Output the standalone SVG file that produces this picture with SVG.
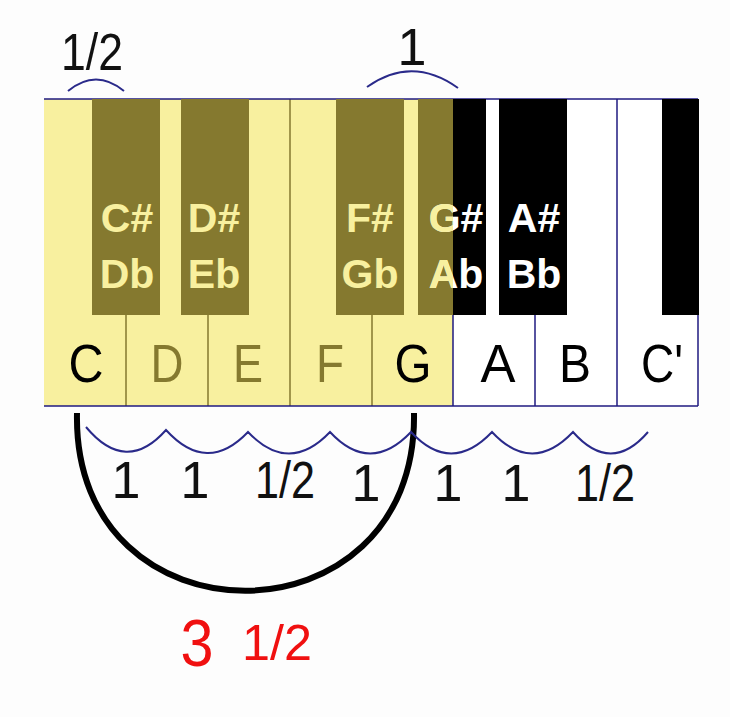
<svg xmlns="http://www.w3.org/2000/svg" width="730" height="717" viewBox="0 0 730 717">
<style>
text{font-family:"Liberation Sans",Arial,sans-serif}
.y{fill:#f8f09f}.o{fill:#85792f}.k{fill:#000}
.ln{stroke:#1f1a80;stroke-width:1.5;fill:none}
.ol{stroke:#85792f;stroke-width:1.5}
.wl{font-size:54px;text-anchor:middle}
.bl{font-size:41px;font-weight:bold;text-anchor:middle}
.st{font-size:52px;text-anchor:middle;fill:#111}
.arc{stroke:#2a2a8a;stroke-width:2;fill:none}
</style>
<defs><clipPath id="cy"><rect x="0" y="0" width="453" height="717"/></clipPath></defs>
<rect width="730" height="717" fill="#fdfdfd"/>
<g id="keyboard">
<rect x="44" y="99" width="654" height="307" fill="#fff"/>
<rect x="44" y="99" width="409" height="307" class="y"/>
<line x1="453" y1="99" x2="453" y2="406" class="ln"/>
<line x1="535" y1="315" x2="535" y2="406" class="ln"/>
<line x1="617" y1="99" x2="617" y2="406" class="ln"/>
<line x1="126" y1="315" x2="126" y2="406" class="ol"/>
<line x1="208" y1="315" x2="208" y2="406" class="ol"/>
<line x1="290" y1="99" x2="290" y2="406" class="ol"/>
<line x1="372" y1="315" x2="372" y2="406" class="ol"/>
<line x1="44" y1="99" x2="698" y2="99" class="ln"/>
<line x1="44" y1="406" x2="698" y2="406" class="ln"/>
<line x1="698" y1="99" x2="698" y2="406" class="ln"/>
<rect x="92" y="99" width="68" height="216" class="o"/>
<rect x="181" y="99" width="68" height="216" class="o"/>
<rect x="336" y="99" width="68" height="216" class="o"/>
<rect x="418" y="99" width="35" height="216" class="o"/>
<rect x="453" y="99" width="33" height="216" class="k"/>
<rect x="499" y="99" width="68" height="216" class="k"/>
<rect x="662" y="99" width="37" height="216" class="k"/>
</g>
<g id="white-labels">
<text x="86" y="382" class="wl" fill="#000" textLength="35" lengthAdjust="spacingAndGlyphs">C</text>
<text x="167" y="382" class="wl" fill="#85792f" textLength="33" lengthAdjust="spacingAndGlyphs">D</text>
<text x="248" y="382" class="wl" fill="#85792f" textLength="30" lengthAdjust="spacingAndGlyphs">E</text>
<text x="330" y="382" class="wl" fill="#85792f" textLength="28" lengthAdjust="spacingAndGlyphs">F</text>
<text x="413" y="382" class="wl" fill="#000" textLength="37" lengthAdjust="spacingAndGlyphs">G</text>
<text x="498" y="382" class="wl" fill="#000" textLength="35" lengthAdjust="spacingAndGlyphs">A</text>
<text x="575" y="382" class="wl" fill="#000" textLength="32" lengthAdjust="spacingAndGlyphs">B</text>
<text x="662" y="382" class="wl" fill="#000" textLength="42" lengthAdjust="spacingAndGlyphs">C'</text>
</g>
<g id="black-labels">
<text x="127" y="232" class="bl" fill="#f8f09f">C#</text>
<text x="127" y="288" class="bl" fill="#f8f09f">Db</text>
<text x="214" y="232" class="bl" fill="#f8f09f">D#</text>
<text x="214" y="288" class="bl" fill="#f8f09f">Eb</text>
<text x="370" y="232" class="bl" fill="#f8f09f">F#</text>
<text x="370" y="288" class="bl" fill="#f8f09f">Gb</text>
<text x="456" y="232" class="bl" fill="#fff">G#</text>
<text x="456" y="288" class="bl" fill="#fff">Ab</text>
<g clip-path="url(#cy)">
<text x="456" y="232" class="bl" fill="#f8f09f">G#</text>
<text x="456" y="288" class="bl" fill="#f8f09f">Ab</text>
</g>
<text x="534" y="232" class="bl" fill="#fff">A#</text>
<text x="534" y="288" class="bl" fill="#fff">Bb</text>
</g>
<g id="connectors">
<path d="M68,91 Q96,68 124,91" class="arc"/>
<path d="M367,87 Q412,55 458,88" class="arc"/>
<path d="M77,413 C72,650 418,650 414,413" stroke="#000" stroke-width="6" fill="none"/>
<path d="M86,427 Q126,475 166,430 Q207,475 248,432 Q289,475 330,432 Q370,475 411,432 Q451,475 492,432 Q532,475 573,432 Q611,475 648,432" class="arc"/>
</g>
<g id="step-labels">
<text x="92" y="70" class="st" font-size="48" textLength="62" lengthAdjust="spacingAndGlyphs">1/2</text>
<text x="412" y="65" class="st" font-size="42">1</text>
<text x="126" y="498" class="st">1</text>
<text x="195" y="498" class="st">1</text>
<text x="285" y="498" class="st" textLength="60" lengthAdjust="spacingAndGlyphs">1/2</text>
<text x="366" y="501" class="st">1</text>
<text x="448" y="501" class="st">1</text>
<text x="516" y="501" class="st">1</text>
<text x="605" y="501" class="st" textLength="60" lengthAdjust="spacingAndGlyphs">1/2</text>
<text x="197" y="666" font-size="66" fill="#f01010" text-anchor="middle" textLength="33" lengthAdjust="spacingAndGlyphs">3</text>
<text x="277" y="660" font-size="50" fill="#f01010" text-anchor="middle" textLength="70" lengthAdjust="spacingAndGlyphs">1/2</text>
</g>
</svg>
